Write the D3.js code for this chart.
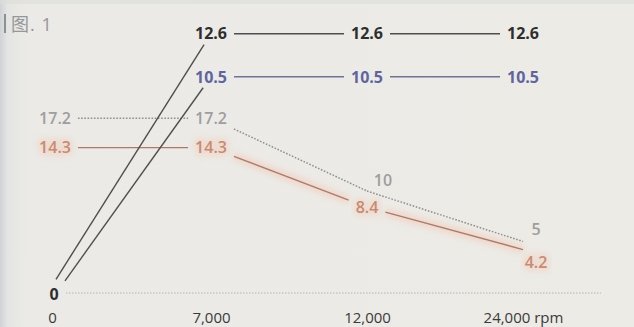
<!DOCTYPE html>
<html>
<head>
<meta charset="utf-8">
<script src="https://cdn.jsdelivr.net/npm/d3@7"></script>
<style>
  html, body { margin: 0; padding: 0; background: #ebeae6; }
  svg { display: block; }
</style>
</head>
<body>
<svg id="chart" width="634" height="327"></svg>
<script>
// ---- data ----
const categories = ["0", "7,000", "12,000", "24,000"];
const tickLabels = ["0", "7,000", "12,000", "24,000 rpm"];
const darkValues = [0, 12.6, 12.6, 12.6];
const blueValues = [0, 10.5, 10.5, 10.5];
const grayValues = [17.2, 17.2, 10, 5];
const orangeValues = [14.3, 14.3, 8.4, 4.2];
const titleText = "图. 1";

// ---- setup ----
const W = 634, H = 327;
const svg = d3.select("#chart");
const FONT = "'Open Sans', 'Noto Sans', sans-serif";

const defs = svg.append("defs");
const bg = defs.append("linearGradient").attr("id", "bgGrad").attr("x1", 0).attr("x2", 1).attr("y1", 0).attr("y2", 0);
bg.append("stop").attr("offset", "0%").attr("stop-color", "#cfd3d6");
bg.append("stop").attr("offset", "1.2%").attr("stop-color", "#e4e5e3");
bg.append("stop").attr("offset", "4%").attr("stop-color", "#ebeae6");
bg.append("stop").attr("offset", "100%").attr("stop-color", "#ecebe6");
defs.append("filter").attr("id", "glow").attr("x", "-20%").attr("y", "-50%").attr("width", "140%").attr("height", "200%")
  .append("feGaussianBlur").attr("stdDeviation", 3);

svg.append("rect").attr("width", W).attr("height", H).attr("fill", "url(#bgGrad)");
svg.append("rect").attr("width", W).attr("height", 4).attr("fill", "#dcdcd9").attr("opacity", 0.6);

// title
svg.append("rect").attr("x", 4).attr("y", 14).attr("width", 2).attr("height", 19).attr("fill", "#8d9195");
svg.append("text").attr("x", 11).attr("y", 31).attr("font-family", "'Open Sans', 'Noto Sans CJK SC', sans-serif")
  .attr("font-size", 18).attr("letter-spacing", 1).attr("fill", "#95979a").text(titleText);

// scales
const x = d3.scalePoint().domain(categories).range([55, 523]);
const yRise = d3.scaleLinear().domain([0, 14]).range([292, 5]);
const yFall = d3.scaleLinear().domain([0, 20]).range([292, 90]);

// x axis
const baseY = yRise(0) + 1;
svg.append("line")
  .attr("x1", x(categories[0]) + 11).attr("x2", x(categories[categories.length - 1]) + 78)
  .attr("y1", baseY).attr("y2", baseY)
  .attr("stroke", "#b4b4b2").attr("stroke-width", 1).attr("stroke-dasharray", "1.5,1.5");

const axis = d3.axisBottom(x).tickSize(0).tickFormat((d, i) => tickLabels[i]);
const axG = svg.append("g").attr("transform", "translate(0,318)").call(axis);
axG.select(".domain").remove();
axG.selectAll("text").attr("y", 0).attr("dy", "0.35em")
  .attr("font-family", FONT).attr("font-size", 15).attr("fill", "#3a3a3a");
axG.selectAll(".tick").filter((d, i) => i === 0).select("text").attr("dx", -3);

// series styles
const series = [
  { values: orangeValues, y: yFall, line: "#b07868", text: "#c98a70", weight: 600, dash: null, width: 1.3, glow: "#f4b394",
    labels: [{ i: 0 }, { i: 1 }, { i: 2 }, { i: 3, dx: 13, dy: 13, offset: true }] },
  { values: grayValues, y: yFall, line: "#909090", text: "#9e9e9e", weight: 600, dash: "1.6,1.6", width: 1.5,
    labels: [{ i: 0 }, { i: 1 }, { i: 2, dx: 16, dy: -11, offset: true }, { i: 3, dx: 13, dy: -12, offset: true }] },
  { values: blueValues, y: yRise, line: "#6f7399", firstLine: "#505050", text: "#6064a0", weight: 700, dash: null, width: 1.4,
    nudge0: 2, gap0: { hw: 8, hh: 14 },
    labels: [{ i: 1 }, { i: 2 }, { i: 3 }] },
  { values: darkValues, y: yRise, line: "#4e4e4e", text: "#2e2e2e", weight: 700, dash: null, width: 1.4,
    nudge0: -7, gap0: { hw: 8, hh: 14 },
    labels: [{ i: 0, dx: 6, dy: 2, offset: true }, { i: 1 }, { i: 2 }, { i: 3 }] }
];

// measure helper
const meas = svg.append("text").attr("font-family", FONT).attr("font-size", 16).attr("font-weight", 700).attr("opacity", 0);
function textW(s, w) { meas.attr("font-weight", w).text(s); return meas.node().getComputedTextLength(); }

const fmt = v => String(v);

series.forEach(s => {
  const pts = s.values.map((v, i) => ({
    x: x(categories[i]) + (i === 0 && s.nudge0 ? s.nudge0 : 0),
    y: s.y(v), v
  }));
  const boxes = pts.map((p, i) => {
    const lab = s.labels.find(l => l.i === i);
    if (lab && !lab.offset) {
      return { hw: textW(fmt(p.v), s.weight) / 2 + 7, hh: 11 };
    }
    if (i === 0 && s.gap0) return s.gap0;
    return { hw: 0, hh: 0 };
  });
  const segs = [];
  for (let i = 0; i < pts.length - 1; i++) {
    const a = pts[i], b = pts[i + 1];
    const dx = b.x - a.x, dy = b.y - a.y;
    const t = (box) => {
      if (box.hw === 0 && box.hh === 0) return 0;
      const tx = Math.abs(dx) > 1e-6 ? box.hw / Math.abs(dx) : Infinity;
      const ty = Math.abs(dy) > 1e-6 ? box.hh / Math.abs(dy) : Infinity;
      return Math.min(tx, ty);
    };
    const s0 = t(boxes[i]), s1 = 1 - t(boxes[i + 1]);
    if (s1 > s0) segs.push({ i, x1: a.x + dx * s0, y1: a.y + dy * s0, x2: a.x + dx * s1, y2: a.y + dy * s1 });
  }
  const g = svg.append("g");
  if (s.glow) {
    g.selectAll("line.glow").data(segs).join("line").attr("class", "glow")
      .attr("x1", d => d.x1).attr("y1", d => d.y1).attr("x2", d => d.x2).attr("y2", d => d.y2)
      .attr("stroke", s.glow).attr("stroke-width", 7).attr("opacity", 0.4).attr("filter", "url(#glow)");
  }
  g.selectAll("line.seg").data(segs).join("line").attr("class", "seg")
    .attr("x1", d => d.x1).attr("y1", d => d.y1).attr("x2", d => d.x2).attr("y2", d => d.y2)
    .attr("stroke", d => (d.i === 0 && s.firstLine) ? s.firstLine : s.line).attr("stroke-width", s.width)
    .attr("stroke-dasharray", s.dash);
  const labs = s.labels.map(l => ({ x: pts[l.i].x + (l.dx || 0), y: pts[l.i].y + (l.dy || 0), t: fmt(pts[l.i].v) }));
  if (s.glow) {
    g.selectAll("text.glow").data(labs).join("text").attr("class", "glow")
      .attr("x", d => d.x).attr("y", d => d.y).attr("dy", "0.36em").attr("text-anchor", "middle")
      .attr("font-family", FONT).attr("font-size", 16).attr("font-weight", s.weight)
      .attr("fill", s.glow).attr("stroke", s.glow).attr("stroke-width", 6).attr("opacity", 0.28)
      .attr("filter", "url(#glow)").text(d => d.t);
  }
  g.selectAll("text.lab").data(labs).join("text").attr("class", "lab")
    .attr("x", d => d.x).attr("y", d => d.y).attr("dy", "0.36em").attr("text-anchor", "middle")
    .attr("font-family", FONT).attr("font-size", 16).attr("font-weight", s.weight)
    .attr("fill", s.text).text(d => d.t);
});
meas.remove();
</script>
</body>
</html>
